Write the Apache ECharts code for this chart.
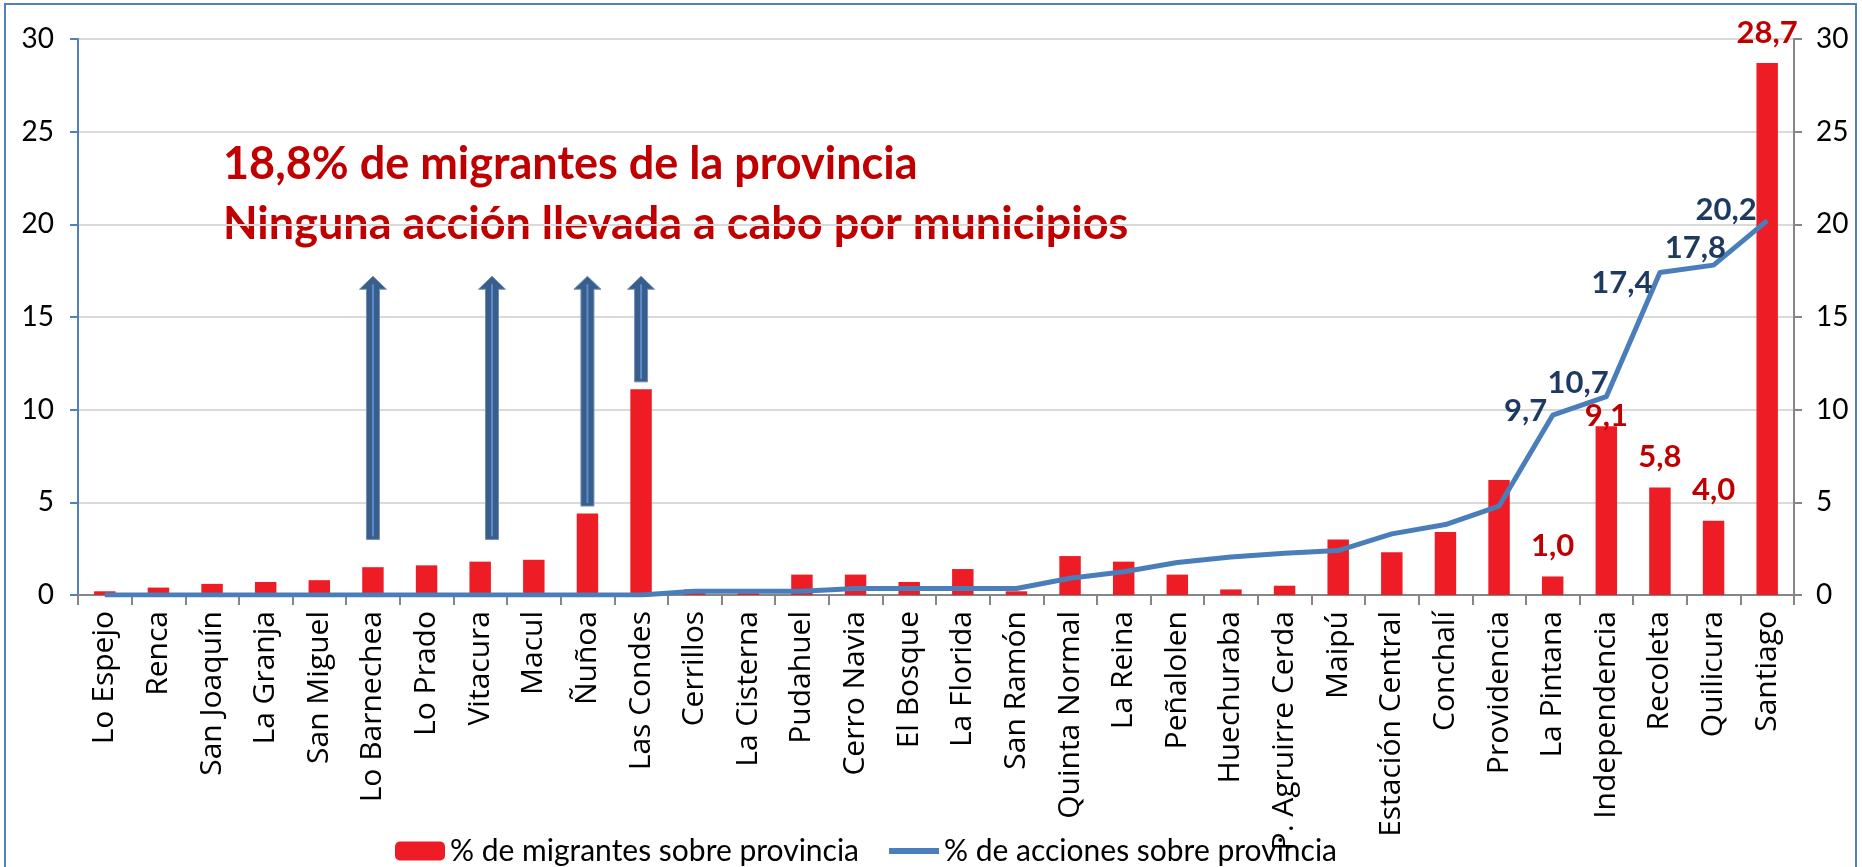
<!DOCTYPE html>
<html>
<head>
<meta charset="utf-8">
<script src="https://cdn.jsdelivr.net/npm/echarts@6/dist/echarts.min.js"></script>
<style>
  html, body { margin: 0; padding: 0; background: #fff; }
  #chart { width: 1862px; height: 867px; }
</style>
</head>
<body>
<div id="chart"></div>
<script>
// comunas de la provincia, en el orden del gráfico
const comunas = [
  "Lo Espejo", "Renca", "San Joaquín", "La Granja", "San Miguel", "Lo Barnechea",
  "Lo Prado", "Vitacura", "Macul", "Ñuñoa", "Las Condes", "Cerrillos", "La Cisterna",
  "Pudahuel", "Cerro Navia", "El Bosque", "La Florida", "San Ramón", "Quinta Normal",
  "La Reina", "Peñalolen", "Huechuraba", "P. Agruirre Cerda", "Maipú", "Estación Central",
  "Conchalí", "Providencia", "La Pintana", "Independencia", "Recoleta", "Quilicura", "Santiago"
];
// % de migrantes sobre provincia (barras)
const migrantes = [
  0.2, 0.4, 0.6, 0.7, 0.8, 1.5, 1.6, 1.8, 1.9, 4.4, 11.1, 0.3, 0.1,
  1.1, 1.1, 0.7, 1.4, 0.2, 2.1, 1.8, 1.1, 0.3, 0.5, 3.0, 2.3,
  3.4, 6.2, 1.0, 9.1, 5.8, 4.0, 28.7
];
// % de acciones sobre provincia (línea)
const acciones = [
  0, 0, 0, 0, 0, 0, 0, 0, 0, 0, 0, 0.2, 0.2,
  0.2, 0.35, 0.35, 0.35, 0.35, 0.9, 1.25, 1.75, 2.05, 2.25, 2.4, 3.3,
  3.8, 4.8, 9.7, 10.7, 17.4, 17.8, 20.2
];
const yMin = 0, yMax = 30, yPaso = 5;
const etiquetados = ["La Pintana", "Independencia", "Recoleta", "Quilicura", "Santiago"];

// flechas de anotación: comuna, valor de inicio y de punta
const flechaComunas = ["Lo Barnechea", "Vitacura", "Ñuñoa", "Las Condes"];
const flechaDesde = [3.0, 3.0, 4.8, 11.5];
const flechaHasta = [17.2, 17.2, 17.2, 17.2];

const nota = ["18,8% de migrantes de la provincia", "Ninguna acción llevada a cabo por municipios"];
const leyenda = ["% de migrantes sobre provincia", "% de acciones sobre provincia"];

// ajustes de posición de etiquetas y flechas (solo estilo)
const offBarra = { "Independencia": [0, 20] };
const offLinea = {
  "La Pintana": [0, -4], "Independencia": [8, -14], "Recoleta": [-2, 10],
  "Quilicura": [18, -17], "Santiago": [-5, -11]
};
const flechaDesplazo = [0, 0.22, 0, 0];

const coma = (v) => v.toFixed(1).replace(".", ",");

const barData = migrantes.map((v, i) => {
  const c = comunas[i];
  if (!etiquetados.includes(c)) return v;
  return { value: v, label: { show: true, offset: offBarra[c] || [0, 0] } };
});
const lineData = acciones.map((v, i) => {
  const c = comunas[i];
  if (!etiquetados.includes(c)) return v;
  return { value: v, label: { show: true, offset: offLinea[c] || [0, 0] } };
});
const flechaData = flechaComunas.map((c, i) => [comunas.indexOf(c), flechaDesde[i], flechaHasta[i], flechaDesplazo[i]]);

const chart = echarts.init(document.getElementById("chart"));

const ejeY = (pos, colorLinea) => ({
  type: "value",
  position: pos,
  min: yMin, max: yMax, interval: yPaso,
  axisLine: { show: true, lineStyle: { color: colorLinea, width: 2 } },
  axisTick: { show: true, length: 8, lineStyle: { color: colorLinea, width: 2 } },
  axisLabel: { margin: pos === "left" ? 24 : 22, fontFamily: "Lato", fontSize: 28, color: "#000" },
  splitLine: { show: pos === "left", lineStyle: { color: "#D9D9D9", width: 2 } }
});

const option = {
  animation: false,
  grid: { left: 78, right: 68, top: 39, bottom: 272 },
  legend: {
    left: 390, top: 831,
    itemWidth: 50, itemHeight: 19, itemGap: 30,
    textStyle: { fontFamily: "Lato", fontSize: 30, color: "#000" },
    data: [
      { name: leyenda[0] },
      { name: leyenda[1], icon: "path://M0,0H50V6H0Z" }
    ]
  },
  xAxis: {
    type: "category",
    data: comunas,
    axisLine: { lineStyle: { color: "#868686", width: 2 } },
    axisTick: { show: true, interval: 0, length: 10, lineStyle: { color: "#868686", width: 2 } },
    axisLabel: { interval: 0, rotate: 90, margin: 16, fontFamily: "Open Sans", fontSize: 30, color: "#000" }
  },
  yAxis: [ejeY("left", "#4F81BD"), ejeY("right", "#868686")],
  series: [
    {
      name: leyenda[0],
      type: "bar",
      yAxisIndex: 0,
      barWidth: "40%",
      itemStyle: { color: "#EE1C25" },
      label: {
        show: false, position: "top", distance: 15,
        formatter: (p) => coma(p.value),
        fontFamily: "Lato", fontWeight: "bold", fontSize: 31, color: "#C00000"
      },
      data: barData
    },
    {
      name: leyenda[1],
      type: "line",
      yAxisIndex: 1,
      symbol: "circle", symbolSize: 1,
      itemStyle: { color: "#4A7EBB" },
      lineStyle: { color: "#4A7EBB", width: 5, join: "round" },
      label: {
        show: false, position: "left", distance: 5,
        formatter: (p) => coma(p.value),
        fontFamily: "Lato", fontWeight: "bold", fontSize: 31, color: "#1F3A60"
      },
      data: lineData
    },
    {
      type: "custom",
      yAxisIndex: 0,
      z: 5,
      encode: { x: 0, y: 1 },
      renderItem: (params, api) => {
        const base = api.coord([api.value(0), api.value(1)]);
        const tip = api.coord([api.value(0), api.value(2)]);
        const band = api.size([1, 0])[0];
        const x = base[0] + api.value(3) * band;
        const sw = 13, hw = 27, hh = 13;
        return {
          type: "group",
          children: [
            {
              type: "polygon",
              shape: { points: [
                [x - sw / 2, base[1]], [x - sw / 2, tip[1] + hh], [x - hw / 2, tip[1] + hh],
                [x, tip[1]], [x + hw / 2, tip[1] + hh], [x + sw / 2, tip[1] + hh], [x + sw / 2, base[1]]
              ] },
              style: { fill: "#3A5E8C", stroke: "#6F8FB8", lineWidth: 1 }
            },
            {
              type: "line",
              shape: { x1: x, y1: base[1] - 3, x2: x, y2: tip[1] + 8 },
              style: { stroke: "#5B8BC9", lineWidth: 2 }
            }
          ]
        };
      },
      data: flechaData
    }
  ],
  graphic: [
    {
      type: "rect", silent: true,
      shape: { x: 5, y: 4, width: 1851, height: 900 },
      style: { fill: "none", stroke: "#4F81BD", lineWidth: 2 }
    },
    {
      type: "text", left: 223, top: 134,
      style: {
        text: nota.join("\n"),
        font: "bold 45px Lato", fill: "#C00000", lineHeight: 60
      }
    }
  ]
};

chart.setOption(option);
</script>
</body>
</html>
